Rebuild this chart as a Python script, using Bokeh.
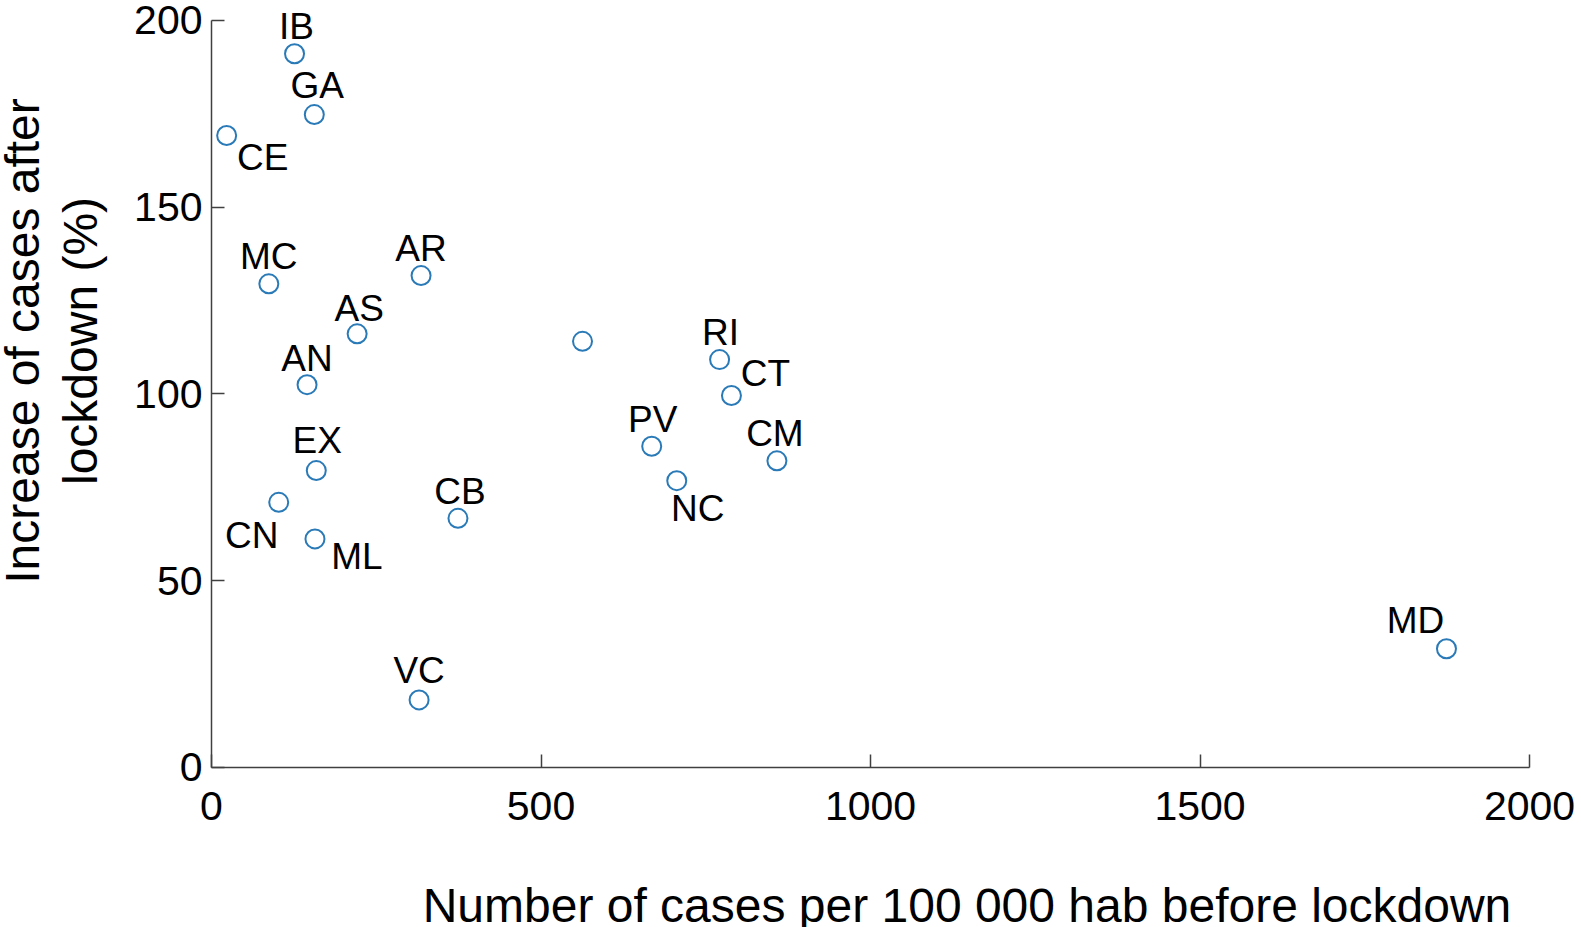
from bokeh.plotting import figure
from bokeh.models import Range1d, FixedTicker, LabelSet, Label, ColumnDataSource, LinearAxis
from bokeh.core.properties import value
from bokeh.embed import file_html
from bokeh.resources import INLINE
import math

# ---- data ----
regions = ["IB", "GA", "CE", "MC", "AR", "AS", "AN", "EX", "CN", "ML",
           "CB", "VC", "", "RI", "CT", "PV", "NC", "CM", "MD"]
cases_before = [126, 156, 23, 87, 318, 221, 145, 159, 102, 157,
                374, 315, 563, 771, 789, 668, 706, 858, 1874]
increase_after = [191.1, 174.8, 169.2, 129.5, 131.7, 116.1, 102.5, 79.5, 71.0, 61.2,
                  66.7, 18.1, 114.1, 109.2, 99.6, 86.0, 76.8, 82.1, 31.8]
x_ticks = [0, 500, 1000, 1500, 2000]
y_ticks = [0, 50, 100, 150, 200]
x_title = "Number of cases per 100 000 hab before lockdown"
y_title_1 = "Increase of cases after"
y_title_2 = "lockdown (%)"

# ---- label placement (screen pixel offsets, layout only) ----
label_dx = [2, 3, 36, 0, 0, 2, 0, 1, -27, 42, 2, 0, 0, 1, 34, 1, 21, -2, -31]
label_dy = [27, 29, -22, 27, 27, 25, 26, 30, -33, -18, 27, 29, 0, 27, 22, 27, -28, 27, 28]

FONT = "Liberation Sans"
AX_COLOR = "#404040"

src = ColumnDataSource(dict(x=cases_before, y=increase_after, name=regions,
                            dx=label_dx, dy=label_dy))

# frame fills the canvas; visible axes span 0..2000 and 0..200
p = figure(width=1581, height=927,
           x_range=Range1d(-320.18, 2078.9), y_range=Range1d(-42.84, 205.35),
           x_axis_type=None, y_axis_type=None,
           output_backend="svg", toolbar_location=None, min_border=0)

p.xgrid.visible = False
p.ygrid.visible = False
p.outline_line_color = None
p.background_fill_color = "white"
p.border_fill_color = "white"

xaxis = LinearAxis(fixed_location=0, bounds=(0, 2000), ticker=FixedTicker(ticks=x_ticks))
yaxis = LinearAxis(fixed_location=0, bounds=(0, 200), ticker=FixedTicker(ticks=y_ticks))
for ax in (xaxis, yaxis):
    ax.major_tick_in = 13
    ax.major_tick_out = 0
    ax.minor_tick_in = 0
    ax.minor_tick_out = 0
    ax.axis_line_color = AX_COLOR
    ax.axis_line_width = 1.5
    ax.major_tick_line_color = AX_COLOR
    ax.major_tick_line_width = 1.5
    ax.major_label_text_font = FONT
    ax.major_label_text_font_size = "41px"
    ax.major_label_text_color = "black"
xaxis.major_label_standoff = 25
yaxis.major_label_standoff = 9
p.add_layout(xaxis, "below")
p.add_layout(yaxis, "left")

p.scatter("x", "y", source=src, size=19, marker="circle",
          fill_color=None, line_color="#2a7ab8", line_width=2)

labels = LabelSet(x="x", y="y", text="name", source=src,
                  x_offset="dx", y_offset="dy",
                  text_align="center", text_baseline="middle",
                  text_font=value(FONT), text_font_size=value("37px"),
                  text_color="black")
p.add_layout(labels)

# axis titles
p.add_layout(Label(x=1146.4, y=-36.9, text=x_title, text_align="center",
                   text_baseline="alphabetic", text_font=FONT,
                   text_font_size="48px", text_color="black"))
p.add_layout(Label(x=-286.8, y=114.19, text=y_title_1, angle=math.pi / 2,
                   text_align="center", text_baseline="alphabetic",
                   text_font=FONT, text_font_size="48px", text_color="black"))
p.add_layout(Label(x=-198.8, y=114.19, text=y_title_2, angle=math.pi / 2,
                   text_align="center", text_baseline="alphabetic",
                   text_font=FONT, text_font_size="48px", text_color="black"))

open("out.html", "w").write(file_html(p, INLINE))
